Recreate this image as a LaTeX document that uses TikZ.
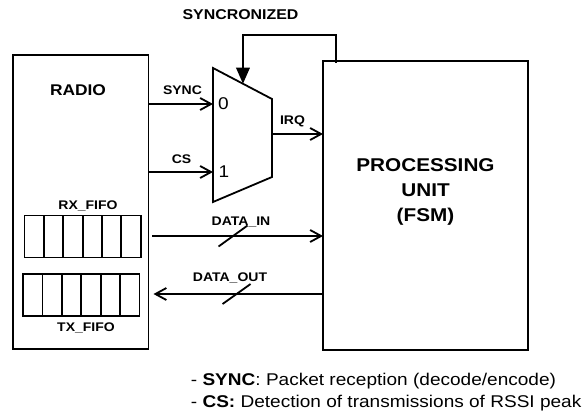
\documentclass[tikz,border=0pt]{standalone}
\usepackage{fontspec}
\setmainfont{Liberation Sans}[FakeStretch=1.12]
\usetikzlibrary{arrows.meta, positioning, calc}

\begin{document}
\begin{tikzpicture}[x=1pt, y=-1pt, line width=1.8pt,
    >={Straight Barb[length=11pt,width=12pt]},
    blk/.style={draw, inner sep=0pt, outer sep=0pt, anchor=north west},
    cell/.style={draw, inner sep=0pt, outer sep=0pt, minimum width=19.4pt, minimum height=42pt},
    sig/.style={font=\fontsize{12.5}{15}\selectfont\bfseries, inner sep=0pt, text depth=0pt},
    digit/.style={font=\fontsize{17}{20}\selectfont, inner sep=0pt},
    legend/.style={font=\fontsize{17}{20}\selectfont, inner sep=0pt}]
        \useasboundingbox (0,0) rectangle (583,417);
        % blocks
        \node[blk, minimum width=135.5pt, minimum height=294pt] (radio) at (13,55) {};
        \node[blk, minimum width=205pt, minimum height=289pt] (pu) at (323,61) {};
        \node[font=\fontsize{15.5}{18}\selectfont\bfseries] (radiolbl) at (78,90) {RADIO};
        \node[font=\fontsize{18.5}{25}\selectfont\bfseries, align=center] (puname) at (425.5,191.5) {PROCESSING\\UNIT\\(FSM)};
        % multiplexer
        \coordinate (mtl) at (213,68);
        \coordinate (mtr) at (272,99);
        \coordinate (mbr) at (272,177);
        \coordinate (mbl) at (213,202);
        \draw (mtl) -- (mtr) -- (mbr) -- (mbl) -- cycle;
        \coordinate (in0) at (213,104);
        \coordinate (in1) at (213,172);
        \coordinate (out) at (272,134);
        \node[digit] (d0) at (223.5,104) {0};
        \node[digit] (d1) at (224,172) {1};
        \draw[->] (radio.east |- in0) -- (in0);
        \draw[->] (radio.east |- in1) -- (in1);
        \draw[->] (out) -- (pu.west |- out);
        \node[sig] (synclbl) at (182.5,90) {SYNC};
        \node[sig] (cslbl) at (181.5,159) {CS};
        \node[sig] (irqlbl) at (292.5,120) {IRQ};
        % feedback to the select input
        \coordinate (fbsrc) at ([xshift=13pt]pu.north west);
        \coordinate (sel) at ($(mtl)!0.508!(mtr)$);
        \coordinate (fbtop) at (sel |- 0,35);
        \draw[-{Triangle[length=16pt,width=13.5pt]}] ([yshift=-2pt]fbsrc) |- (fbtop) -- (sel);
        \node[font=\fontsize{14.2}{17}\selectfont\bfseries] (synclbl2) at (240.5,15) {SYNCRONIZED};
        % data buses
        \coordinate (din) at (152,236);
        \coordinate (dout) at (153.5,294);
        \draw[->] (din) -- (pu.west |- din) coordinate[pos=0.474] (dinmid);
        \draw ($(dinmid)+(-14.5,10.5)$) -- ($(dinmid)+(14.5,-10.5)$);
        \node[sig] (dinlbl) at (241,221) {DATA\_IN};
        \draw[->] (pu.west |- dout) -- (dout) coordinate[pos=0.51] (doutmid);
        \draw ($(doutmid)+(-14,10)$) -- ($(doutmid)+(14,-10)$);
        \node[sig] (doutlbl) at (230,277) {DATA\_OUT};
        % fifos
        \node[sig] (rxlbl) at (88,205) {RX\_FIFO};
        \foreach \i in {0,...,5}
            \node[cell] (rx\i) at (34.2+19.35*\i,236.5) {};
        \foreach \i in {0,...,5}
            \node[cell] (tx\i) at (32.7+19.4*\i,295) {};
        \node[sig] (txlbl) at (86,327) {TX\_FIFO};
        % legend
        \node[legend, anchor=base west] (legsync) at (190,385) {- \textbf{SYNC}: Packet reception (decode/encode)};
        \node[legend, anchor=base west] (legcs) at ([yshift=-22pt]legsync.base west) {- \textbf{CS:} Detection of transmissions of RSSI peak};
\end{tikzpicture}
\end{document}
